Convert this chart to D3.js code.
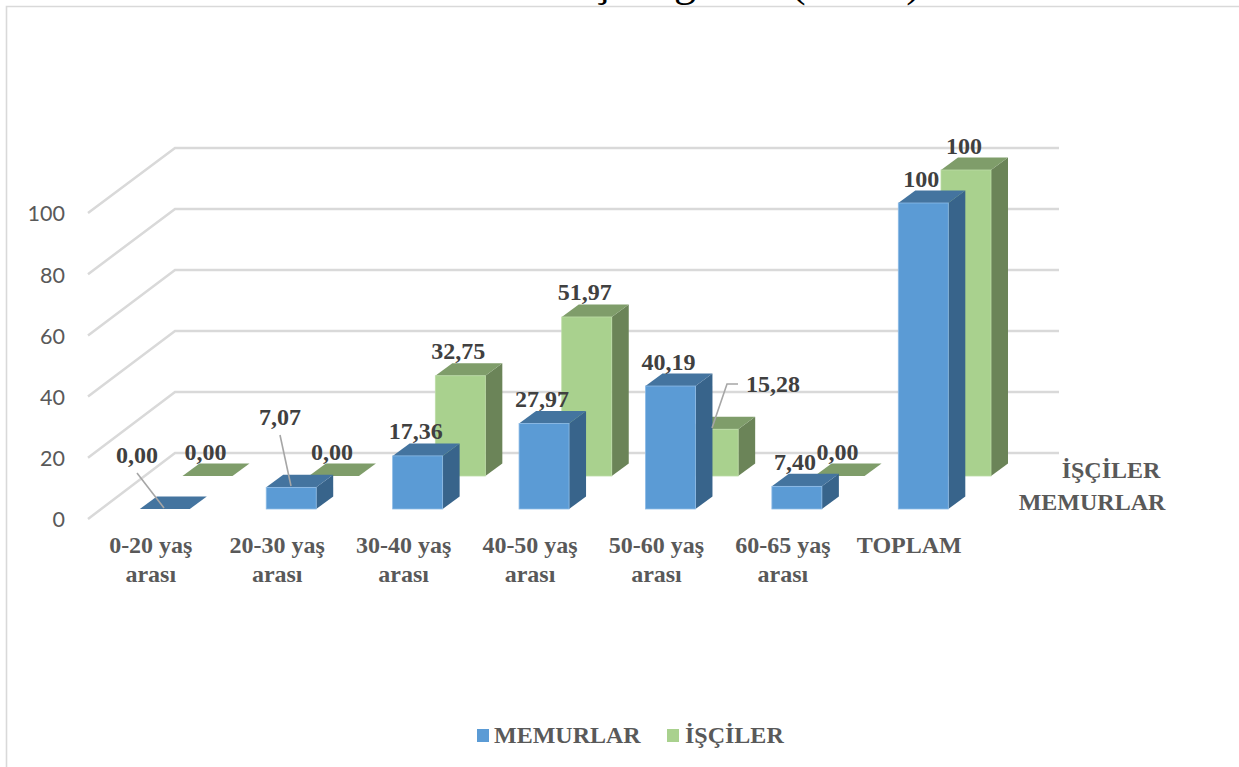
<!DOCTYPE html>
<html lang="tr"><head><meta charset="utf-8">
<style>html,body{margin:0;background:#fff;overflow:hidden}svg{display:block}</style>
<script src="https://cdn.jsdelivr.net/npm/d3@7"></script></head><body>
<svg id="c" width="1239" height="767"></svg>
<script>
const categories = ["0-20 yaş arası","20-30 yaş arası","30-40 yaş arası","40-50 yaş arası","50-60 yaş arası","60-65 yaş arası","TOPLAM"];
const memurlar = [0, 7.07, 17.36, 27.97, 40.19, 7.40, 100];
const isciler = [0, 0, 32.75, 51.97, 15.28, 0, 100];
const memurlarLabels = ["0,00","7,07","17,36","27,97","40,19","7,40","100"];
const isciLabels = ["0,00","0,00","32,75","51,97","15,28","0,00","100"];
const ticks = [0,20,40,60,80,100];
const seriesNames = ["MEMURLAR","İŞÇİLER"];

const serif = "'Liberation Serif','Times New Roman',serif";
const svg = d3.select("#c");
const depth = {x:17, y:-12.5};
const barW = 50, greenShift = 42.7;
const x = d3.scalePoint().domain(categories).range([139.8, 898.3]);
const yFrontWall = d3.scaleLinear().domain([0,100]).range([519,213]);
const yBackWall = d3.scaleLinear().domain([0,100]).range([453,148]);
const h = d3.scaleLinear().domain([0,100]).range([0,306]);

// frame
svg.append("path").attr("d","M6.5,767V6.5H1239").attr("fill","none").attr("stroke","#d9d9d9").attr("stroke-width",1.6);

// clipped title
svg.append("text").attr("font-family",serif).attr("font-size",44).attr("fill","#000")
  .attr("text-anchor","end").attr("x",779).attr("y",-4).text("Yaş Dağılımı");
svg.append("text").attr("font-family",serif).attr("font-size",44).attr("fill","#000")
  .attr("letter-spacing",2.5).attr("x",791).attr("y",-4).text("(2015)");

// grid
const line = d3.line();
svg.append("g").selectAll("path").data(ticks).join("path")
  .attr("d",t=>line([[88,yFrontWall(t)],[175,yBackWall(t)],[1059,yBackWall(t)]]))
  .attr("fill","none").attr("stroke","#d9d9d9").attr("stroke-width",2.5);

// axis
const ax = svg.append("g").attr("transform","translate(65,1)")
  .call(d3.axisLeft(yFrontWall).tickValues(ticks).tickSize(0).tickPadding(0));
ax.select(".domain").remove();
ax.selectAll("text").attr("font-family","Lato,'Open Sans',sans-serif").attr("font-size",21.5).attr("fill","#595959");

function bars(vals, x0, base, col){
  const g = svg.append("g");
  categories.forEach((c,i)=>{
    const l = x(c)+x0, r = l+barW, b = base, t = base-h(vals[i]);
    if(vals[i]>0) g.append("path").attr("fill",col.side)
      .attr("d",line([[r,b],[r+depth.x,b+depth.y],[r+depth.x,t+depth.y],[r,t]])+"Z");
    g.append("path").attr("fill",col.top)
      .attr("d",line([[l,t],[r,t],[r+depth.x,t+depth.y],[l+depth.x,t+depth.y]])+"Z");
    if(vals[i]>0) g.append("rect").attr("x",l).attr("y",t).attr("width",barW).attr("height",b-t)
      .attr("fill",col.face).attr("stroke",col.edge).attr("stroke-width",.8);
  });
}
const blue = {face:"#5b9bd5",top:"#44749f",side:"#38648b",edge:"#8dbbe6"};
const green = {face:"#a9d18e",top:"#7f9d6a",side:"#6b8458",edge:"#bcdca6"};
bars(isciler, greenShift, 476, green);
bars(memurlar, 0, 509, blue);

// leaders
const leaders = [[[137,473],[164,508]],[[280,435],[291,486]],[[738,384],[727,384],[712,428]]];
svg.append("g").selectAll("path").data(leaders).join("path").attr("d",d=>line(d))
  .attr("fill","none").attr("stroke","#a6a6a6").attr("stroke-width",1.6);

// data labels
const labelOverrides = {"m0":[137,463],"m1":[280,425],"i4":[773,392]};
function labels(txt, vals, x0, base, key){
  categories.forEach((c,i)=>{
    const o = labelOverrides[key+i];
    const px = o?o[0]:x(c)+x0+barW/2-2, py = o?o[1]:base-h(vals[i])+depth.y-4;
    svg.append("text").attr("x",px).attr("y",py).attr("text-anchor","middle")
      .attr("font-family",serif).attr("font-weight",700).attr("font-size",24).attr("fill","#404040").text(txt[i]);
  });
}
labels(isciLabels, isciler, greenShift, 476, "i");
labels(memurlarLabels, memurlar, 0, 509, "m");

// category labels
categories.forEach(c=>{
  const parts = c.endsWith(" arası") ? [c.replace(" arası",""),"arası"] : [c];
  parts.forEach((p,j)=>svg.append("text").attr("x",x(c)+11).attr("y",553+j*29).attr("text-anchor","middle")
    .attr("font-family",serif).attr("font-weight",700).attr("font-size",24).attr("fill","#595959").text(p));
});

// depth axis
[[seriesNames[1],1111,478],[seriesNames[0],1092,510]].forEach(d=>svg.append("text").attr("x",d[1]).attr("y",d[2])
  .attr("text-anchor","middle").attr("font-family",serif).attr("font-weight",700).attr("font-size",24).attr("fill","#595959").text(d[0]));

// legend
[[477,494,"#5b9bd5",seriesNames[0]],[667,685,"#a9d18e",seriesNames[1]]].forEach(d=>{
  svg.append("rect").attr("x",d[0]).attr("y",729).attr("width",12).attr("height",13).attr("fill",d[2]);
  svg.append("text").attr("x",d[1]).attr("y",743).attr("font-family",serif).attr("font-weight",700)
    .attr("font-size",24).attr("fill","#595959").text(d[3]);
});
</script></body></html>
